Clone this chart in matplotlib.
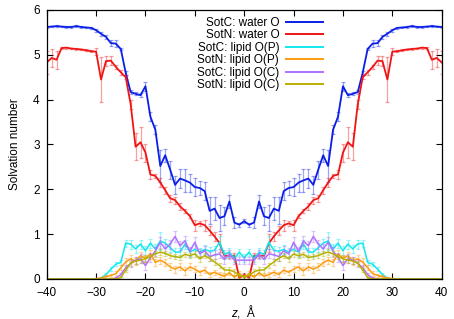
import numpy as np
import matplotlib
matplotlib.use("Agg")
import matplotlib.pyplot as plt

plt.rcParams['font.family'] = ['Liberation Sans', 'DejaVu Sans']
plt.rcParams['mathtext.fontset'] = 'custom'
plt.rcParams['mathtext.it'] = 'Liberation Sans:italic'
plt.rcParams['mathtext.rm'] = 'Liberation Sans'

z = list(range(-40, 41))

sotc_water = [5.62,5.63,5.64,5.63,5.62,5.62,5.64,5.62,5.61,5.60,
              5.55,5.47,5.40,5.26,5.25,5.13,4.60,4.17,4.13,4.10,
              4.30,3.62,3.33,2.52,2.76,2.44,2.10,2.24,2.20,2.15,
              2.05,2.03,1.96,1.52,1.57,1.36,1.40,1.73,1.26,1.21,
              1.29,
              1.21,1.26,1.73,1.40,1.36,1.57,1.52,1.96,2.03,2.05,
              2.15,2.20,2.24,2.10,2.44,2.76,2.52,3.33,3.62,4.30,
              4.10,4.13,4.17,4.60,5.13,5.25,5.26,5.40,5.47,5.55,
              5.60,5.61,5.62,5.64,5.62,5.62,5.63,5.64,5.63,5.62]
sotc_water_err = [0.02,0.02,0.02,0.02,0.02,0.02,0.02,0.02,0.02,0.02,
                  0.03,0.05,0.05,0.07,0.07,0.03,0.05,0.04,0.03,0.04,
                  0.10,0.10,0.10,0.35,0.15,0.20,0.20,0.22,0.25,0.20,
                  0.20,0.15,0.20,0.30,0.25,0.30,0.20,0.15,0.12,0.05,
                  0.05,
                  0.05,0.12,0.15,0.20,0.30,0.25,0.30,0.20,0.15,0.20,
                  0.20,0.25,0.22,0.20,0.20,0.15,0.35,0.10,0.10,0.10,
                  0.04,0.03,0.04,0.05,0.03,0.07,0.07,0.05,0.05,0.03,
                  0.02,0.02,0.02,0.02,0.02,0.02,0.02,0.02,0.02,0.02]

sotn_water = [4.83,4.93,4.89,5.15,5.16,5.14,5.13,5.12,5.10,5.08,
              5.07,4.45,4.86,4.87,4.73,4.61,4.50,3.90,2.95,3.05,
              2.82,2.33,2.30,2.15,1.98,1.80,1.76,1.62,1.52,1.40,
              1.20,1.24,1.20,1.08,0.95,0.80,0.52,0.52,0.52,0.03,
              0.09,
              0.03,0.52,0.52,0.52,0.80,0.95,1.08,1.20,1.24,1.20,
              1.40,1.52,1.62,1.76,1.80,1.98,2.15,2.30,2.33,2.82,
              3.05,2.95,3.90,4.50,4.61,4.73,4.87,4.86,4.45,5.07,
              5.08,5.10,5.12,5.13,5.14,5.16,5.15,4.89,4.93,4.83]
sotn_water_err = [0.25,0.20,0.20,0.02,0.02,0.02,0.02,0.02,0.02,0.02,
                  0.08,0.50,0.12,0.10,0.05,0.05,0.05,0.10,0.30,0.35,
                  0.20,0.10,0.05,0.10,0.08,0.08,0.08,0.08,0.05,0.05,
                  0.12,0.05,0.12,0.10,0.10,0.20,0.05,0.05,0.05,0.05,
                  0.05,
                  0.05,0.05,0.05,0.05,0.20,0.10,0.10,0.12,0.05,0.12,
                  0.05,0.05,0.08,0.08,0.08,0.08,0.10,0.05,0.10,0.20,
                  0.35,0.30,0.10,0.05,0.05,0.05,0.10,0.12,0.50,0.08,
                  0.02,0.02,0.02,0.02,0.02,0.02,0.02,0.20,0.20,0.25]

sotc_lipid_p = [0,0,0,0,0,0,0,0,0,0,
                0.00,0.02,0.10,0.22,0.33,0.37,0.80,0.78,0.67,0.78,
                0.63,0.80,0.67,0.85,0.80,0.70,0.60,0.60,0.78,0.60,
                0.66,0.60,0.66,0.62,0.64,0.82,0.55,0.60,0.45,0.60,
                0.47,
                0.60,0.45,0.60,0.55,0.82,0.64,0.62,0.66,0.60,0.66,
                0.60,0.78,0.60,0.60,0.70,0.80,0.85,0.67,0.80,0.63,
                0.78,0.67,0.78,0.80,0.37,0.33,0.22,0.10,0.02,0.00,
                0,0,0,0,0,0,0,0,0,0]
sotc_lipid_p_err = [0,0,0,0,0,0,0,0,0,0,
                    0.00,0.02,0.04,0.05,0.05,0.05,0.08,0.10,0.08,0.10,
                    0.10,0.10,0.10,0.20,0.10,0.10,0.10,0.10,0.10,0.10,
                    0.10,0.10,0.10,0.10,0.10,0.15,0.10,0.10,0.08,0.08,
                    0.08,
                    0.08,0.08,0.10,0.10,0.15,0.10,0.10,0.10,0.10,0.10,
                    0.10,0.10,0.10,0.10,0.10,0.10,0.20,0.10,0.10,0.10,
                    0.10,0.08,0.10,0.08,0.05,0.05,0.05,0.04,0.02,0.00,
                    0,0,0,0,0,0,0,0,0,0]

sotn_lipid_p = [0,0,0,0,0,0,0,0,0,0,
                0.01,0.02,0.05,0.08,0.12,0.25,0.38,0.45,0.40,0.52,
                0.46,0.56,0.37,0.42,0.36,0.27,0.22,0.27,0.18,0.27,
                0.22,0.15,0.20,0.10,0.15,0.10,0.06,0.14,0.04,0.12,
                0.03,
                0.12,0.04,0.14,0.06,0.10,0.15,0.10,0.20,0.15,0.22,
                0.27,0.18,0.27,0.22,0.27,0.36,0.42,0.37,0.56,0.46,
                0.52,0.40,0.45,0.38,0.25,0.12,0.08,0.05,0.02,0.01,
                0,0,0,0,0,0,0,0,0,0]
sotn_lipid_p_err = [0.01,0.01,0.01,0.01,0.01,0.01,0.01,0.01,0.01,0.01,
                    0.01,0.02,0.03,0.04,0.05,0.06,0.08,0.08,0.08,0.08,
                    0.08,0.08,0.08,0.08,0.08,0.08,0.08,0.08,0.08,0.08,
                    0.06,0.06,0.06,0.06,0.06,0.06,0.06,0.06,0.06,0.06,
                    0.05,
                    0.06,0.06,0.06,0.06,0.06,0.06,0.06,0.06,0.06,0.06,
                    0.08,0.08,0.08,0.08,0.08,0.08,0.08,0.08,0.08,0.08,
                    0.08,0.08,0.08,0.08,0.06,0.05,0.04,0.03,0.02,0.01,
                    0.01,0.01,0.01,0.01,0.01,0.01,0.01,0.01,0.01,0.01]

sotc_lipid_c = [0,0,0,0,0,0,0,0,0,0,
                0,0,0,0,0.02,0.10,0.25,0.35,0.42,0.45,
                0.30,0.48,0.62,0.82,0.67,0.78,0.95,0.74,0.85,0.62,
                0.82,0.56,0.63,0.50,0.54,0.56,0.44,0.55,0.42,0.42,
                0.42,
                0.42,0.42,0.55,0.44,0.56,0.54,0.50,0.63,0.56,0.82,
                0.62,0.85,0.74,0.95,0.78,0.67,0.82,0.62,0.48,0.30,
                0.45,0.42,0.35,0.25,0.10,0.02,0,0,0,0,
                0,0,0,0,0,0,0,0,0,0]
sotc_lipid_c_err = [0,0,0,0,0,0,0,0,0,0,
                    0,0,0,0,0.02,0.04,0.06,0.08,0.08,0.10,
                    0.10,0.10,0.10,0.12,0.10,0.10,0.12,0.10,0.12,0.10,
                    0.12,0.10,0.10,0.10,0.10,0.10,0.10,0.10,0.08,0.08,
                    0.08,
                    0.08,0.08,0.10,0.10,0.10,0.10,0.10,0.10,0.10,0.12,
                    0.10,0.12,0.10,0.12,0.10,0.10,0.12,0.10,0.10,0.10,
                    0.10,0.08,0.08,0.06,0.04,0.02,0,0,0,0,
                    0,0,0,0,0,0,0,0,0,0]

sotn_lipid_c = [0,0,0,0,0,0,0,0,0,0,
                0,0,0,0,0,0.03,0.20,0.35,0.40,0.42,
                0.45,0.50,0.56,0.60,0.57,0.52,0.50,0.48,0.55,0.52,
                0.56,0.45,0.52,0.46,0.38,0.30,0.20,0.20,0.16,0.08,
                0.05,
                0.08,0.16,0.20,0.20,0.30,0.38,0.46,0.52,0.45,0.56,
                0.52,0.55,0.48,0.50,0.52,0.57,0.60,0.56,0.50,0.45,
                0.42,0.40,0.35,0.20,0.03,0,0,0,0,0,
                0,0,0,0,0,0,0,0,0,0]
sotn_lipid_c_err = [0,0,0,0,0,0,0,0,0,0,
                    0,0,0,0,0,0.02,0.05,0.06,0.06,0.06,
                    0.06,0.06,0.06,0.06,0.06,0.06,0.06,0.06,0.06,0.06,
                    0.06,0.06,0.06,0.06,0.06,0.06,0.06,0.06,0.06,0.06,
                    0.04,
                    0.06,0.06,0.06,0.06,0.06,0.06,0.06,0.06,0.06,0.06,
                    0.06,0.06,0.06,0.06,0.06,0.06,0.06,0.06,0.06,0.06,
                    0.06,0.06,0.06,0.05,0.02,0,0,0,0,0,
                    0,0,0,0,0,0,0,0,0,0]

labels = ["SotC: water O", "SotN: water O", "SotC: lipid O(P)",
          "SotN: lipid O(P)", "SotC: lipid O(C)", "SotN: lipid O(C)"]
series = [sotc_water, sotn_water, sotc_lipid_p, sotn_lipid_p, sotc_lipid_c, sotn_lipid_c]
errors = [sotc_water_err, sotn_water_err, sotc_lipid_p_err, sotn_lipid_p_err,
          sotc_lipid_c_err, sotn_lipid_c_err]
colors = ['#0a1ee6', '#f01414', '#12e8ec', '#ff9a10', '#b070ff', '#b8b000']
lws = [1.3, 1.3, 1.1, 1.1, 1.1, 1.1]

fig = plt.figure(figsize=(4.54, 3.19), dpi=100)
ax = fig.add_axes([0.1029, 0.1254, 0.8700, 0.8433])

handles = []
for y, e, c, lab, lw in zip(series, errors, colors, labels, lws):
    ax.errorbar(z, y, yerr=e, fmt='none', ecolor=c, alpha=0.4,
                elinewidth=0.9, capsize=1.6, capthick=0.9)
    h, = ax.plot(z, y, color=c, lw=lw, label=lab)
    handles.append(h)

ax.set_xlim(-40, 40)
ax.set_ylim(0, 6)
ax.set_xticks(range(-40, 41, 10))
ax.set_yticks(range(0, 7))
ax.tick_params(direction='in', top=True, right=True, length=4, width=0.8,
               labelsize=8.5)
ax.tick_params(axis='x', pad=6)
ax.tick_params(axis='y', pad=5)
for s in ax.spines.values():
    s.set_linewidth(0.9)

ax.set_xlabel(r"$z$,  Å", fontsize=8.5, labelpad=3)
ax.set_ylabel("Solvation number", fontsize=8.5, labelpad=9)

leg = ax.legend(handles=handles, loc='upper right', bbox_to_anchor=(0.705, 0.983),
                frameon=False, markerfirst=False, fontsize=8.5,
                handlelength=3.1, handletextpad=0.6, labelspacing=0.04,
                borderaxespad=0.0, borderpad=0.2)
for l in leg.get_lines():
    l.set_linewidth(1.4)

fig.savefig("out.png", dpi=100)
